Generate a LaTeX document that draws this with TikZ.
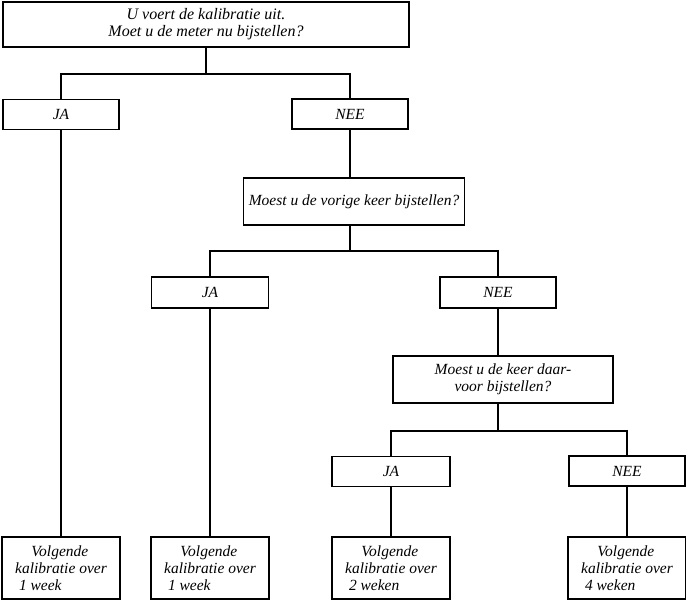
\documentclass[tikz,border=0pt]{standalone}
\usepackage{fontspec}
\setmainfont{Liberation Serif}
\usepackage{tikz}
\usetikzlibrary{positioning, calc}
\tikzset{
    qbox/.style={
        rectangle, draw=black, line width=1.9pt, inner sep=0pt,
        font=\itshape\fontsize{15.5}{16.8}\selectfont, align=center
    },
    ansbox/.style={
        qbox, minimum width=116pt, minimum height=30pt
    },
    endbox/.style={
        qbox, align=left, minimum width=118pt, minimum height=62pt
    },
    link/.style={
        line width=1.9pt, color=black
    },
}

\begin{document}
\begin{tikzpicture}[x=1pt, y=-1pt]
    \useasboundingbox (0,0) rectangle (686,602);

    % First question
    \node[qbox, minimum width=406pt, minimum height=45pt, font=\itshape\fontsize{16}{16.8}\selectfont] (q1) at (206,24.5) {U voert de kalibratie uit.\\Moet u de meter nu bijstellen?};
    \node[ansbox] (ja1) at (61,114.5) {JA};
    \node[ansbox] (nee1) at (350,114) {NEE};

    % Second question
    \node[qbox, minimum width=221pt, minimum height=47pt] (q2) at (354,201.5) {Moest u de vorige keer bijstellen?};
    \node[ansbox, minimum width=117pt, minimum height=31pt] (ja2) at (210,292.5) {JA};
    \node[ansbox, minimum height=31pt] (nee2) at (498,292.5) {NEE};

    % Third question
    \node[qbox, minimum width=220pt, minimum height=47pt] (q3) at (503,379.5) {Moest u de keer daar-\\voor bijstellen?};
    \node[ansbox, minimum width=118pt] (ja3) at (391,471.5) {JA};
    \node[ansbox] (nee3) at (627,471) {NEE};

    % Outcomes
    \node[endbox] (out1) at (61,568) {\hspace*{1.05em}Volgende\\kalibratie over\\\hspace*{0.25em}1 week};
    \node[endbox] (out2) at (210,568) {\hspace*{1.05em}Volgende\\kalibratie over\\\hspace*{0.25em}1 week};
    \node[endbox] (out3) at (391,568) {\hspace*{1.05em}Volgende\\kalibratie over\\\hspace*{0.25em}2 weken};
    \node[endbox] (out4) at (627,568) {\hspace*{1.05em}Volgende\\kalibratie over\\\hspace*{0.25em}4 weken};

    % Branches
    \draw[link] (q1.south) -- ++(0,26) coordinate (j1);
    \draw[link] (ja1.north) |- (j1) -| (nee1.north);
    \draw[link] (nee1.south) -- (nee1.south |- q2.north);
    \draw[link] (nee1.south |- q2.south) -- ++(0,25) coordinate (j2);
    \draw[link] (ja2.north) |- (j2) -| (nee2.north);
    \draw[link] (nee2.south) -- (nee2.south |- q3.north);
    \draw[link] (nee2.south |- q3.south) -- ++(0,27) coordinate (j3);
    \draw[link] (ja3.north) |- (j3) -| (nee3.north);

    % Down to the outcomes
    \draw[link] (ja1.south) -- (out1.north);
    \draw[link] (ja2.south) -- (out2.north);
    \draw[link] (ja3.south) -- (out3.north);
    \draw[link] (nee3.south) -- (out4.north);

\end{tikzpicture}
\end{document}
